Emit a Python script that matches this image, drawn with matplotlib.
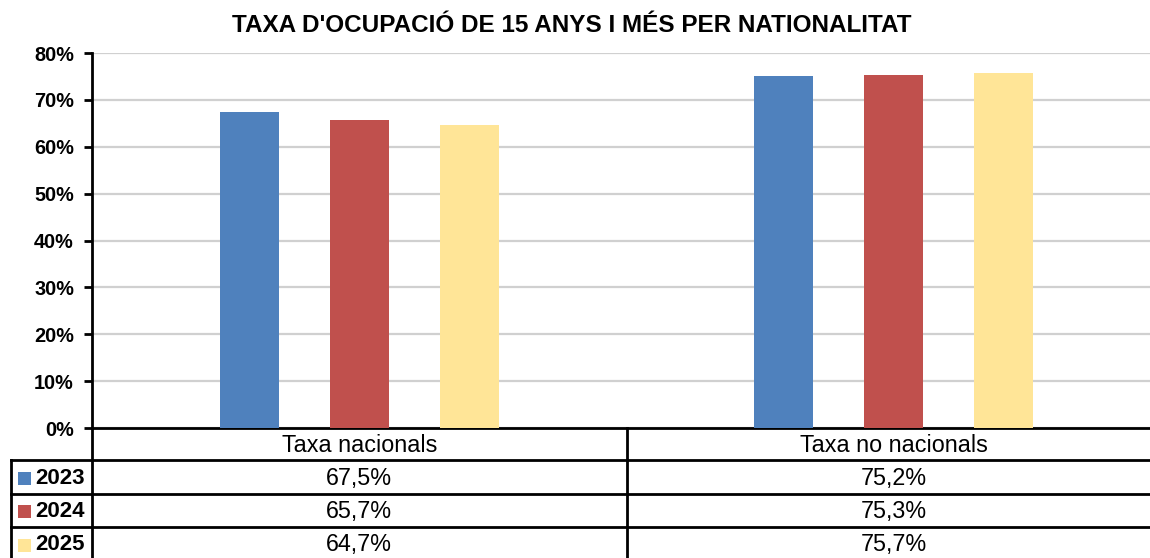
import matplotlib
matplotlib.use("Agg")
import matplotlib.pyplot as plt
from matplotlib.patches import Rectangle
import matplotlib.transforms as mtransforms

plt.rcParams['font.family'] = ['Liberation Sans', 'DejaVu Sans']

title = "TAXA D'OCUPACIÓ DE 15 ANYS I MÉS PER NATIONALITAT"
categories = ["Taxa nacionals", "Taxa no nacionals"]
years = ["2023", "2024", "2025"]
values_2023 = [67.5, 75.2]
values_2024 = [65.7, 75.3]
values_2025 = [64.7, 75.7]
series = [values_2023, values_2024, values_2025]
colors = ["#4F81BD", "#C0504D", "#FFE597"]
yticks = [0, 10, 20, 30, 40, 50, 60, 70, 80]

W, H = 1150, 558
fig = plt.figure(figsize=(W / 100, H / 100), dpi=100)
ax_left, ax_right, ax_top, ax_bot = 92, 1161, 53, 428
ax = fig.add_axes([ax_left / W, 1 - ax_bot / H, (ax_right - ax_left) / W, (ax_bot - ax_top) / H])

bar_w = 0.11
step = 0.206
for i, (vals, c) in enumerate(zip(series, colors)):
    xs = [k + (i - 1) * step for k in range(len(categories))]
    ax.bar(xs, vals, width=bar_w, color=c, zorder=3)

ax.set_xlim(-0.5, len(categories) - 0.5)
ax.set_ylim(0, 80)
ax.set_yticks(yticks)
ax.set_yticklabels([f"{t}%" for t in yticks], fontsize=14.3, fontweight='bold')
ax.set_xticks([])
ax.grid(axis='y', color='#d0d0d0', linewidth=1.6, zorder=0)
for s in ['top', 'right']:
    ax.spines[s].set_visible(False)
ax.spines['left'].set_linewidth(2)
ax.spines['bottom'].set_linewidth(2)
ax.tick_params(axis='y', direction='out', length=6, width=2, pad=7)

fig.text(0.497, 1 - 25 / H, title, ha='center', va='center', fontsize=17.5,
         fontweight='bold')

# table
ah = ax_bot - ax_top
def ay(px):
    return (ax_bot - px) / ah
left_px = 11
left_ax = (left_px - ax_left) / (ax_right - ax_left)
row_edges = [428, 460, 494, 527, 561]
blend = mtransforms.blended_transform_factory(ax.transData, ax.transAxes)
lc = 'black'
lw = 2
ax.plot([0, 0], [0, ay(H + 5)], transform=ax.transAxes, color=lc, lw=lw, clip_on=False)
for xb in [0.5, 1.5]:
    ax.plot([xb, xb], [0, ay(H + 5)], transform=blend, color=lc, lw=lw, clip_on=False)
for px in row_edges[1:4]:
    ax.plot([left_ax, 1], [ay(px), ay(px)], transform=ax.transAxes, color=lc, lw=lw, clip_on=False)
ax.plot([left_ax, left_ax], [ay(460), ay(H + 5)], transform=ax.transAxes, color=lc, lw=lw, clip_on=False)

fs = 16.8
for k, cat in enumerate(categories):
    ax.text(k, ay((row_edges[0] + row_edges[1]) / 2 + 1), cat, transform=blend,
            ha='center', va='center', fontsize=fs, clip_on=False)
for r, (yr, vals, c) in enumerate(zip(years, series, colors)):
    yc_px = (row_edges[r + 1] + row_edges[r + 2]) / 2 + 1
    yc = ay(yc_px)
    for k, v in enumerate(vals):
        ax.text(k, yc, f"{v:.1f}%".replace('.', ','), transform=blend,
                ha='center', va='center', fontsize=fs, clip_on=False)
    ax.text((35 - ax_left) / (ax_right - ax_left), yc, yr, transform=ax.transAxes,
            ha='left', va='center', fontsize=16, fontweight='bold', clip_on=False)
    sq = 13
    fig.patches.append(Rectangle((18 / W, 1 - (yc_px + sq / 2) / H),
                                 sq / W, sq / H, transform=fig.transFigure,
                                 facecolor=c, edgecolor='none'))

fig.savefig("out.png", dpi=100)
